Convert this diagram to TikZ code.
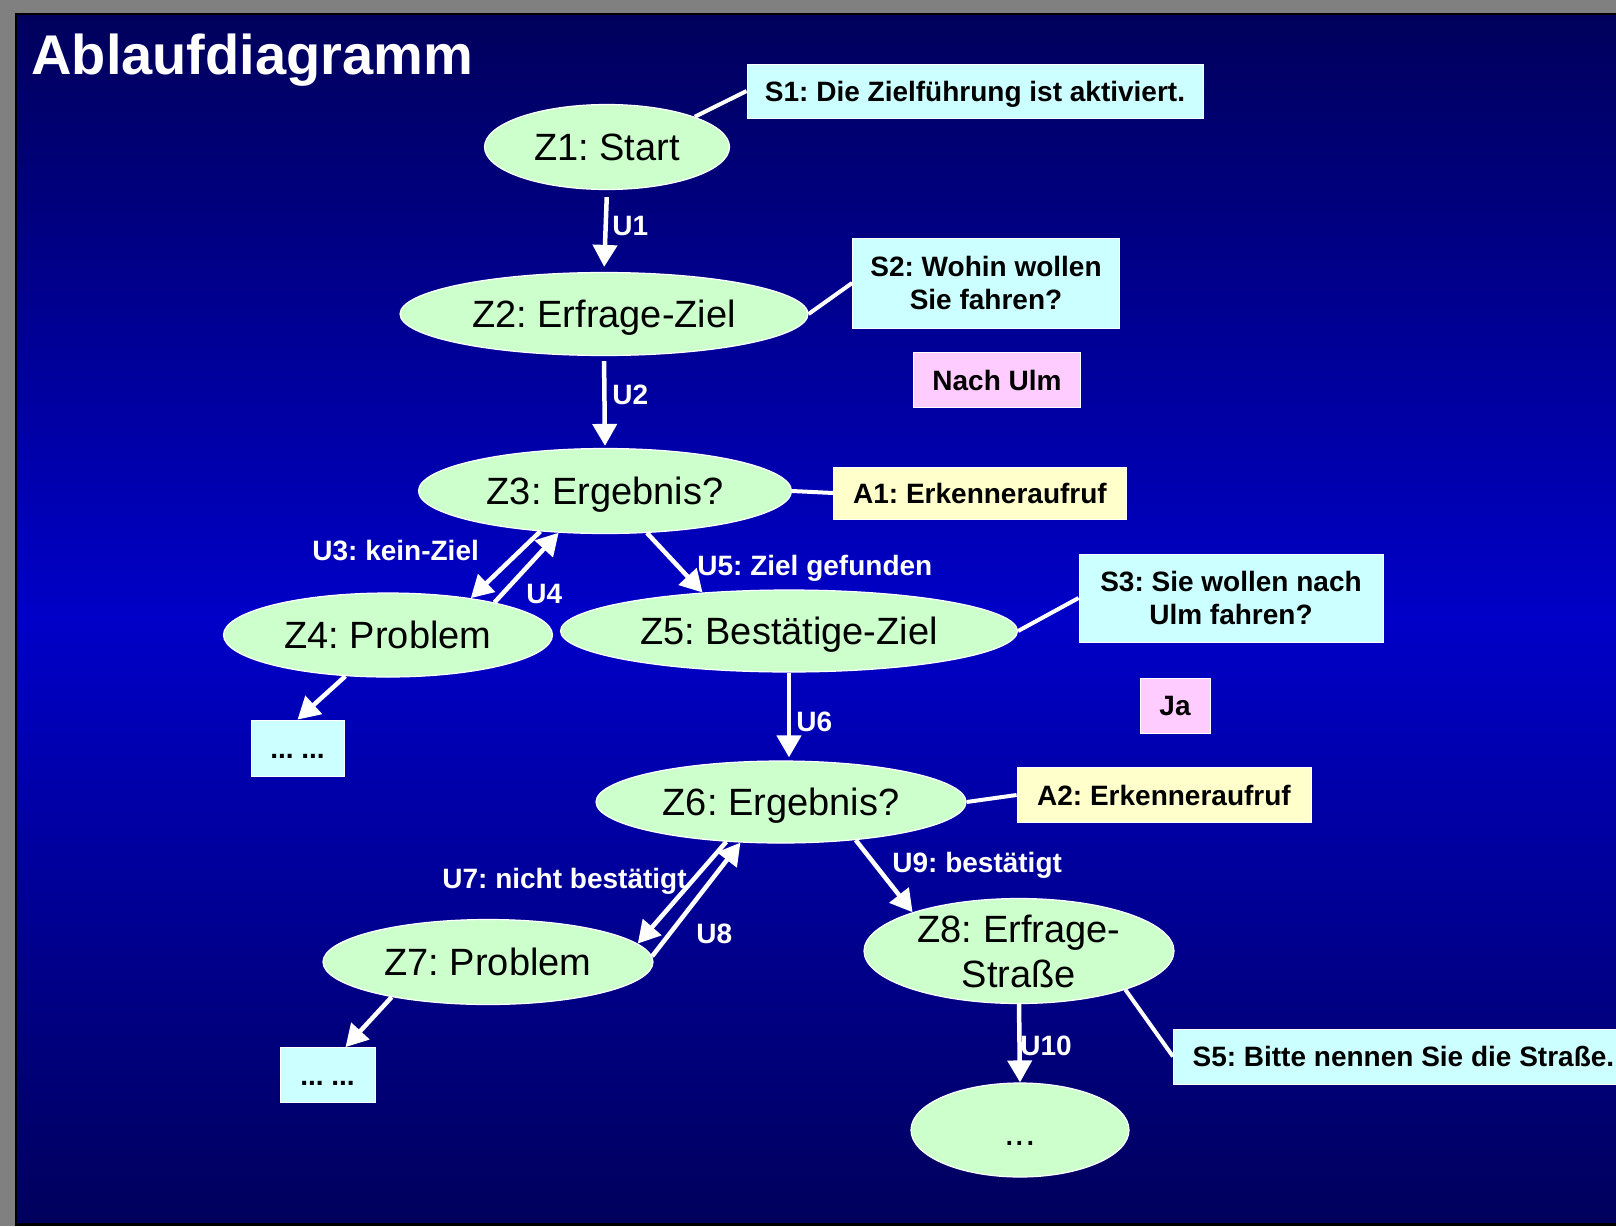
\documentclass[tikz,border=0pt]{standalone}
\usepackage{fontspec}
\setmainfont{Liberation Sans}
\usetikzlibrary{shapes.geometric,arrows.meta,calc}
\frenchspacing

\definecolor{framegray}{RGB}{128,128,128}
\definecolor{bgdark}{RGB}{0,0,92}
\definecolor{bgbright}{RGB}{0,0,200}
\definecolor{stategreen}{RGB}{204,255,204}
\definecolor{saycyan}{RGB}{204,255,255}
\definecolor{actyellow}{RGB}{255,255,204}
\definecolor{answerpink}{RGB}{255,204,255}

\begin{document}
\begin{tikzpicture}[x=0.5pt,y=-0.5pt,
  state/.style={ellipse, fill=stategreen, draw=white, line width=0.6pt,
    inner sep=0pt, align=center, font=\fontsize{19}{22.5}\selectfont},
  oneline/.style={text height=13.6pt, text depth=0pt},
  note/.style={rectangle, draw=white, line width=0.4pt, inner sep=0pt,
    align=center, font=\bfseries\fontsize{14}{16.5}\selectfont},
  saybox/.style={note, fill=saycyan},
  actbox/.style={note, fill=actyellow},
  answerbox/.style={note, fill=answerpink},
  flow/.style={draw=white, line width=2.25pt, -{Triangle[length=11pt,width=12pt]}},
  tie/.style={draw=white, line width=2pt},
  lbl/.style={anchor=base west, inner sep=0pt, text=white,
    font=\bfseries\fontsize{14}{16.5}\selectfont},
]
% slide background with frame
\clip (0,0) rectangle (1616,1226);
\fill[framegray] (0,0) rectangle (1616,1226);
\fill[black] (15,13) rectangle (1616,1226);
\shade[top color=bgdark, bottom color=bgdark, middle color=bgbright]
  (17,15) rectangle (1616,1222);

% title
\node[anchor=base west, inner sep=0pt, text=white,
  font=\bfseries\fontsize{28}{32}\selectfont] (title) at (31,74) {Ablaufdiagramm};

% states
\node[state, oneline, minimum width=122.5pt, minimum height=42.5pt] (Z1) at (607,147) {Z1: Start};
\node[state, oneline, minimum width=204pt, minimum height=41.5pt] (Z2) at (604,314) {Z2: Erfrage-Ziel};
\node[state, oneline, minimum width=186.5pt, minimum height=42.5pt] (Z3) at (605,491) {Z3: Ergebnis?};
\node[state, oneline, minimum width=164.5pt, minimum height=42pt] (Z4) at (388,635) {Z4: Problem};
\node[state, oneline, minimum width=228.5pt, minimum height=41pt] (Z5) at (789,631) {Z5: Bestätige-Ziel};
\node[state, oneline, minimum width=185pt, minimum height=41pt] (Z6) at (781,802) {Z6: Ergebnis?};
\node[state, oneline, minimum width=165pt, minimum height=42.5pt] (Z7) at (488,962) {Z7: Problem};
\node[state, minimum width=155pt, minimum height=52.5pt, inner ysep=-8pt] (Z8) at (1019,951) {Z8: Erfrage-\\Straße};
\node[state, text height=16pt, text depth=1pt, minimum width=109pt, minimum height=47pt] (Zn) at (1020,1130) {...};

% prompts, actions and answers
\node[saybox, text height=10pt, text depth=0pt, minimum width=228pt, minimum height=27pt] (S1) at (975,91) {S1: Die Zielführung ist aktiviert.};
\node[saybox, minimum width=133.5pt, minimum height=45pt] (S2) at (986,283) {S2: Wohin wollen\\Sie fahren?};
\node[answerbox, minimum width=83.5pt, minimum height=27.5pt] (R1) at (997,380) {Nach Ulm};
\node[actbox, minimum width=146.5pt, minimum height=26pt] (A1) at (980,493) {A1: Erkenneraufruf};
\node[saybox, minimum width=152pt, minimum height=44pt] (S3) at (1231,598) {S3: Sie wollen nach\\Ulm fahren?};
\node[answerbox, minimum width=35pt, minimum height=27.5pt] (R2) at (1175,706) {Ja};
\node[actbox, minimum width=147pt, minimum height=27.5pt] (A2) at (1164,795) {A2: Erkenneraufruf};
\node[saybox, minimum width=230pt, minimum height=27.5pt, anchor=west] (S5) at (1173,1056.5) {S5: Bitte nennen Sie die Straße.};
\node[saybox, text height=12pt, text depth=1.4pt, minimum width=46.5pt, minimum height=28pt] (C1) at (297.5,748) {... ...};
\node[saybox, text height=12pt, text depth=1.4pt, minimum width=47.5pt, minimum height=27.5pt] (C2) at (327.5,1075) {... ...};

% ties between states and their boxes
\draw[tie] (Z1.19) -- (S1.west);
\draw[tie] (Z2.east) -- (S2.west);
\draw[tie] (Z3.east) -- (A1.west);
\draw[tie] (Z5.east) -- (S3.west);
\draw[tie] (Z6.east) -- (A2.west);
\draw[tie] (Z8.-20) -- (S5.west);

% transitions
\draw[flow, shorten <=3.5pt, shorten >=2.5pt] (Z1.south) -- (Z2.north);
\draw[flow, shorten <=2.5pt, shorten >=1pt] (Z2.south) -- (Z3.north);
\draw[flow] (Z3.212) -- (Z4.24);
\draw[flow] (Z4.17) -- (Z3.222);
\draw[flow] (Z3.-45) -- (Z5.156);
\draw[flow, shorten >=1.5pt] (Z5.south) -- (Z5.south |- Z6.north);
\draw[flow] (Z4.224) -- (C1.north);
\draw[flow] (Z6.216) -- (Z7.7);
\draw[flow] (Z7.2) -- (Z6.225);
\draw[flow] (Z6.-27) -- (Z8.160);
\draw[flow] (Z7.200) -- ([xshift=9pt]C2.north);
\draw[flow] (Z8.south) -- (Zn.north);

% transition labels
\node[lbl] (U1) at (612,235) {U1};
\node[lbl] (U2) at (612,404) {U2};
\node[lbl] (U3) at (312,560) {U3: kein-Ziel};
\node[lbl] (U4) at (526,603) {U4};
\node[lbl] (U5) at (697,575) {U5: Ziel gefunden};
\node[lbl] (U6) at (796,731) {U6};
\node[lbl] (U7) at (442,888) {U7: nicht bestätigt};
\node[lbl] (U8) at (696,943) {U8};
\node[lbl] (U9) at (892,872) {U9: bestätigt};
\node[lbl] (U10) at (1020,1055) {U10};
\end{tikzpicture}
\end{document}
